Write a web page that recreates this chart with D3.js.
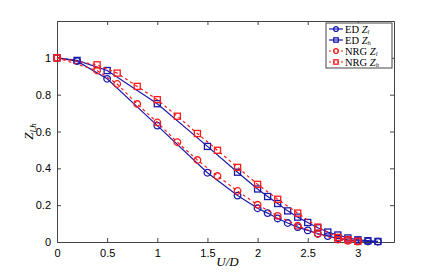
<!DOCTYPE html>
<html>
<head>
<meta charset="utf-8">
<script src="https://cdn.jsdelivr.net/npm/d3@7"></script>
<style>
  body { margin: 0; background: #fff; }
  svg { display: block; }
  .tick text { font-family: "Liberation Sans", Arial, sans-serif; font-size: 11px; fill: #000; }
</style>
</head>
<body>
<svg width="436" height="273"></svg>
<script>
// ED results (solid blue)
var edU  = [0, 0.2, 0.5, 1.0, 1.5, 1.8, 2.0, 2.1, 2.2, 2.3, 2.4, 2.5, 2.6, 2.7, 2.8, 2.9, 3.0, 3.1, 3.2];
var edZl = [1, 0.982, 0.886, 0.632, 0.376, 0.252, 0.183, 0.157, 0.128, 0.103, 0.081, 0.063, 0.046, 0.032, 0.02, 0.012, 0.006, 0.003, 0.001];
var edZh = [1, 0.986, 0.931, 0.751, 0.519, 0.379, 0.288, 0.247, 0.209, 0.169, 0.135, 0.106, 0.077, 0.054, 0.038, 0.022, 0.012, 0.007, 0.003];

// NRG results (dashed red)
var nrgU  = [0, 0.4, 0.6, 0.8, 1.0, 1.2, 1.4, 1.6, 1.8, 2.0, 2.2, 2.4, 2.6, 2.8, 2.9, 3.0];
var nrgZl = [1, 0.931, 0.858, 0.749, 0.649, 0.542, 0.445, 0.358, 0.277, 0.202, 0.142, 0.088, 0.043, 0.013, 0.006, 0.002];
var nrgZh = [1, 0.962, 0.917, 0.845, 0.773, 0.683, 0.589, 0.498, 0.405, 0.313, 0.232, 0.157, 0.081, 0.025, 0.012, 0.004];

var xTicks = [0, 0.5, 1, 1.5, 2, 2.5, 3];
var yTicks = [0, 0.2, 0.4, 0.6, 0.8, 1];

var blue = "#1a1aaa", red = "#ff1a1a";

var svg = d3.select("svg");
let margin = { top: 21, right: 42, bottom: 31, left: 57 };
let width = +svg.attr("width") - margin.left - margin.right;
let height = +svg.attr("height") - margin.top - margin.bottom;

var g = svg.append("g").attr("transform", `translate(${margin.left},${margin.top})`);

var x = d3.scaleLinear().domain([0, 3.36]).range([0, width]);
var y = d3.scaleLinear().domain([0, 1.2]).range([height, 0]);

// axes box with inward ticks (matlab style)
function styleAxis(sel) {
    sel.select(".domain").attr("stroke", "#444");
    sel.selectAll(".tick line").attr("stroke", "#444");
}
g.append("g").attr("transform", `translate(0,${height})`)
    .call(d3.axisBottom(x).tickValues(xTicks).tickSizeInner(-4).tickSizeOuter(0).tickPadding(7).tickFormat(d3.format("")))
    .call(styleAxis);
g.append("g")
    .call(d3.axisTop(x).tickValues(xTicks).tickSizeInner(-4).tickSizeOuter(0).tickFormat(""))
    .call(styleAxis);
g.append("g")
    .call(d3.axisLeft(y).tickValues(yTicks).tickSizeInner(-4).tickSizeOuter(0).tickPadding(6).tickFormat(d3.format("")))
    .call(styleAxis);
g.append("g").attr("transform", `translate(${width},0)`)
    .call(d3.axisRight(y).tickValues(yTicks).tickSizeInner(-4).tickSizeOuter(0).tickFormat(""))
    .call(styleAxis);

var series = [
    { u: edU, z: edZl, color: blue, dash: null, marker: "circle" },
    { u: edU, z: edZh, color: blue, dash: null, marker: "square" },
    { u: nrgU, z: nrgZl, color: red, dash: "3,3", marker: "circle" },
    { u: nrgU, z: nrgZh, color: red, dash: "3,3", marker: "square" }
];

var line = d3.line().x(d => x(d[0])).y(d => y(d[1]));

function drawMarker(sel, type, color, r) {
    if (type === "circle") {
        sel.append("circle").attr("r", r);
    } else {
        sel.append("rect").attr("x", -r * 0.92).attr("y", -r * 0.92).attr("width", r * 1.84).attr("height", r * 1.84);
    }
    sel.selectAll("circle, rect").attr("fill", "none").attr("stroke", color).attr("stroke-width", 1.3);
}

series.forEach(function (s) {
    var pts = s.u.map((u, i) => [u, s.z[i]]);
    g.append("path").datum(pts)
        .attr("d", line)
        .attr("fill", "none")
        .attr("stroke", s.color)
        .attr("stroke-width", 1.2)
        .attr("stroke-dasharray", s.dash);
    g.selectAll(null).data(pts).enter().append("g")
        .attr("transform", d => `translate(${x(d[0])},${y(d[1])})`)
        .each(function () { drawMarker(d3.select(this), s.marker, s.color, 3.3); });
});

// axis labels
var serif = "'Liberation Serif', 'DejaVu Serif', serif";
var xl = svg.append("text").attr("x", margin.left + x(1.7)).attr("y", 266)
    .attr("text-anchor", "middle").attr("font-family", serif).attr("font-size", 13).attr("font-style", "italic");
xl.text("U/D");

var yl = svg.append("text").attr("transform", `translate(33,${margin.top + y(0.6)}) rotate(-90)`)
    .attr("text-anchor", "middle").attr("font-family", serif).attr("font-size", 13);
yl.append("tspan").attr("font-style", "italic").text("Z");
yl.append("tspan").attr("font-style", "italic").attr("font-size", 9).attr("dy", 3).text("l,h");

// legend
var legendNames = [["ED ", "l"], ["ED ", "h"], ["NRG ", "l"], ["NRG ", "h"]];
var lx = margin.left + width - 68, ly = margin.top + 2;
var leg = svg.append("g").attr("transform", `translate(${lx},${ly})`);
leg.append("rect").attr("width", 66).attr("height", 45)
    .attr("fill", "#fff").attr("stroke", "#444").attr("stroke-width", 1);
series.forEach(function (s, i) {
    var row = leg.append("g").attr("transform", `translate(0,${6 + i * 11})`);
    row.append("line").attr("x1", 3).attr("x2", 17)
        .attr("stroke", s.color).attr("stroke-width", 1.2).attr("stroke-dasharray", s.dash ? "2,2" : null);
    var m = row.append("g").attr("transform", "translate(10,0)");
    drawMarker(m, s.marker, s.color, 2.4);
    var t = row.append("text").attr("x", 19).attr("y", 3.5)
        .attr("font-family", serif).attr("font-size", 10.5);
    t.append("tspan").text(legendNames[i][0]);
    t.append("tspan").attr("font-style", "italic").text("Z");
    t.append("tspan").attr("font-style", "italic").attr("font-size", 6.5).attr("dy", 1.5).text(legendNames[i][1]);
});
</script>
</body>
</html>
